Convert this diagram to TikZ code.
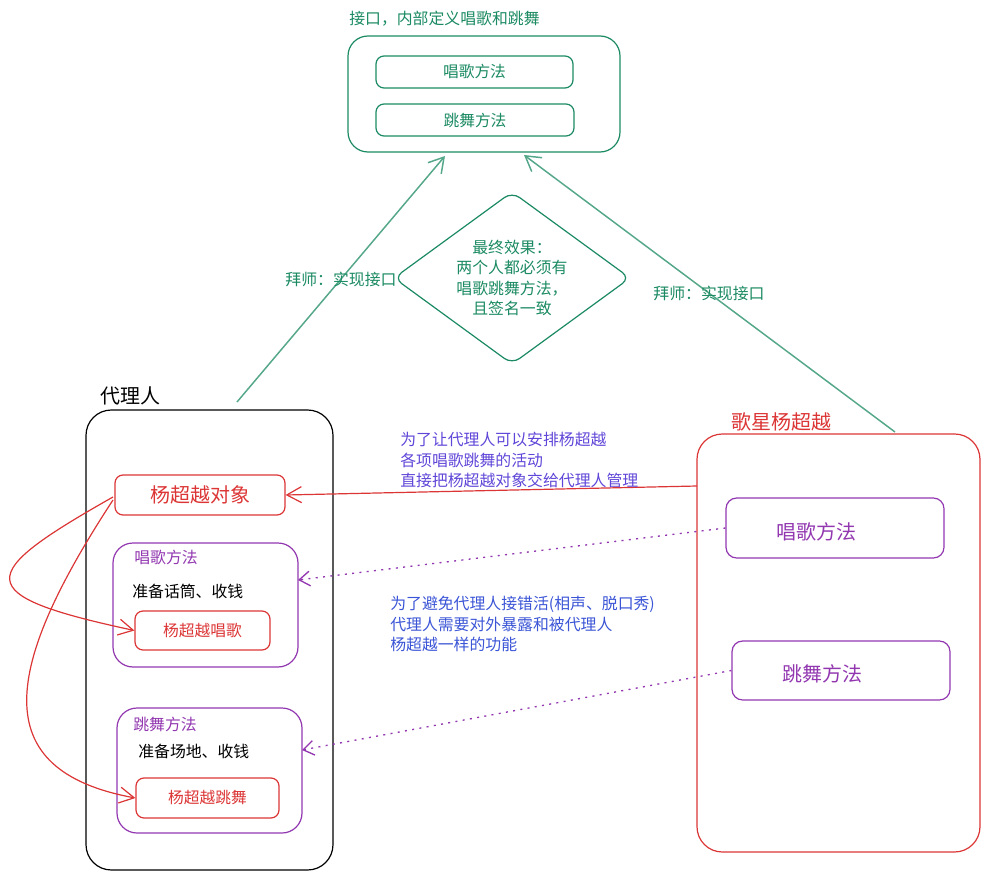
\documentclass[tikz,border=0pt]{standalone}
\usepackage{fontspec}
\setmainfont{Noto Sans CJK SC}
\usepackage{tikz}
\usetikzlibrary{arrows.meta, calc}
\usepackage{xcolor}
\definecolor{ifgreen}{HTML}{1B8A62}
\definecolor{starred}{HTML}{DC3535}
\definecolor{methpurple}{HTML}{9237B0}
\definecolor{noteviolet}{HTML}{6046D8}
\definecolor{noteblue}{HTML}{3B55D6}

\begin{document}
\begin{tikzpicture}[
  x=0.75pt, y=-0.75pt,
  box/.style={
    draw, line width=0.9pt, inner sep=0pt, align=center,
    font=\fontsize{11.8}{15}\selectfont
  },
  greenbox/.style={box, draw=ifgreen, text=ifgreen, rounded corners=6pt},
  redbox/.style={box, draw=starred, text=starred, rounded corners=6pt},
  methbox/.style={box, draw=methpurple, text=methpurple, rounded corners=15pt},
  bigtext/.style={font=\fontsize{15}{18}\selectfont},
  txt/.style={inner sep=0pt, font=\fontsize{11.9}{15.4}\selectfont},
  note/.style={txt, align=left, anchor=west},
  greenarrow/.style={-{Straight Barb[length=11pt, width=13pt]}, line width=1.1pt, ifgreen!75},
  redarrow/.style={-{Straight Barb[length=11pt, width=12pt]}, line width=0.9pt, starred},
  dotarrow/.style={-{Straight Barb[length=8pt, width=11pt]}, line width=1pt,
    methpurple, dash pattern=on 1.5pt off 4pt}
]
  \useasboundingbox (0,0) rectangle (990,881);

  % Interface with its two methods
  \node[greenbox, rounded corners=15pt, minimum width=204pt, minimum height=87pt]
    (iface) at (484,94) {};
  \node[txt, ifgreen, anchor=west] (ifacelbl) at (349,19) {接口，内部定义唱歌和跳舞};
  \node[greenbox, minimum width=147.75pt, minimum height=24pt] (ifsing) at (474.5,72) {唱歌方法};
  \node[greenbox, minimum width=148.5pt, minimum height=24pt] (ifdance) at (475,120) {跳舞方法};

  % Diamond in the middle
  \node[txt, ifgreen, align=center] (dtext) at (512,278)
    {最终效果：\\两个人都必须有\\唱歌跳舞方法，\\且签名一致};
  \draw[ifgreen, line width=0.9pt, rounded corners=7pt]
    (dtext.center) ++(0,-86) -- ++(118,86) -- ++(-118,86)
    -- ++(-118,-86) -- cycle;

  % Proxy (left)
  \node[box, draw=black, rounded corners=19pt, minimum width=185.25pt, minimum height=345pt]
    (proxy) at (209.5,640) {};
  \node[bigtext, inner sep=0pt, anchor=west] (proxylbl) at (100,396) {代理人};
  \node[redbox, bigtext, minimum width=127.5pt, minimum height=30pt] (obj) at (200,495) {杨超越对象};

  \node[methbox, minimum width=138.75pt, minimum height=93pt] (singP) at (205.5,605) {};
  \node[txt, methpurple, anchor=west] (singPlbl) at (134,557) {唱歌方法};
  \node[txt, anchor=west] (singPtxt) at (132,591) {准备话筒、收钱};
  \node[redbox, minimum width=101.25pt, minimum height=29.25pt] (singY) at (202.5,630.5) {杨超越唱歌};

  \node[methbox, minimum width=138.75pt, minimum height=93.75pt] (danceP) at (209.5,770.5) {};
  \node[txt, methpurple, anchor=west] (dancePlbl) at (133,724) {跳舞方法};
  \node[txt, anchor=west] (dancePtxt) at (138,751) {准备场地、收钱};
  \node[redbox, minimum width=107.25pt, minimum height=30pt] (danceY) at (207.5,798) {杨超越跳舞};

  % Star (right)
  \node[box, draw=starred, rounded corners=19pt, minimum width=212.25pt, minimum height=313.5pt]
    (star) at (838.5,643) {};
  \node[bigtext, starred, inner sep=0pt, anchor=west] (starlbl) at (731,422) {歌星杨超越};
  \node[methbox, rounded corners=8pt, minimum width=163.5pt, minimum height=45pt] (sing2) at (835,528) {};
  \node[bigtext, methpurple, inner sep=0pt] (sing2txt) at (816,532) {唱歌方法};
  \node[methbox, rounded corners=8pt, minimum width=163.5pt, minimum height=44.25pt] (dance2) at (841,670.5) {};
  \node[bigtext, methpurple, inner sep=0pt] (dance2txt) at (822,674) {跳舞方法};

  % Free ends of the connectors
  \coordinate (proxytop) at (237,402);
  \coordinate (ifaceL) at (445,156);
  \coordinate (startop) at (895,432);
  \coordinate (ifaceR) at (524,155);
  \coordinate (starL) at (697,486);
  \coordinate (singPE) at (298,580);
  \coordinate (dancePE) at (302,750);

  % Implements the interface
  \draw[greenarrow] (proxytop) -- (ifaceL);
  \draw[greenarrow] (startop) -- (ifaceR);
  \node[txt, ifgreen] (implL) at (341,279) {拜师：实现接口};
  \node[txt, ifgreen] (implR) at (709,293) {拜师：实现接口};

  % Star object handed to the proxy
  \draw[redarrow] (starL) -- (obj.east);
  \node[note, noteviolet] (note1) at (400,460)
    {为了让代理人可以安排杨超越\\各项唱歌跳舞的活动\\直接把杨超越对象交给代理人管理};

  % Same methods exposed
  \draw[dotarrow] (sing2.west) -- (singPE);
  \draw[dotarrow] (dance2.west) -- (dancePE);
  \node[note, noteblue] (note2) at (390,624)
    {为了避免代理人接错活(相声、脱口秀)\\代理人需要对外暴露和被代理人\\杨超越一样的功能};

  % Proxy calls the star
  \draw[redarrow] (113,497) .. controls (-25,575) and (-31,595) .. (singY.west);
  \draw[redarrow] (113,500) .. controls (5,665) and (-16,770) .. (danceY.west);
\end{tikzpicture}
\end{document}
